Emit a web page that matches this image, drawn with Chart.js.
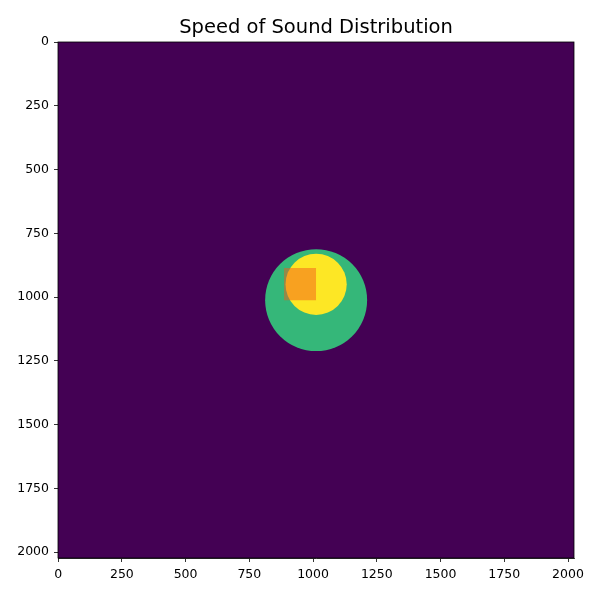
<!DOCTYPE html>
<html>
<head>
<meta charset="utf-8">
<script src="https://cdn.jsdelivr.net/npm/chart.js@4.4.0/dist/chart.umd.min.js"></script>
<style>
    body { margin: 0; background: #fff; }
    #wrap { width: 600px; height: 600px; }
</style>
</head>
<body>
<div id="wrap"><canvas id="sosChart" width="600" height="600"></canvas></div>
<script>
// grid extent (pixel centres 0..2023, image edges at -0.5 / 2023.5)
const gridMin = -0.5;
const gridMax = 2023.5;
const tickValues = [0, 250, 500, 750, 1000, 1250, 1500, 1750, 2000];

// circular regions: centre x, centre y, radius (grid units)
const circleX = [1012, 1012];
const circleY = [1012, 950];
const circleR = [200, 120];
const circleColors = ['#35b779', '#fde725'];

// square region corners
const rectX = [886, 1012];
const rectY = [886, 1012];

const bgColor = '#440154';
const rectColor = 'rgba(243, 92, 27, 0.5)';

// radius in data units -> pixels through the x scale
function pixelRadius(ctx, r) {
    const s = ctx.chart.scales.x;
    if (!s || !isFinite(s.getPixelForValue(0))) return 0;
    return Math.abs(s.getPixelForValue(r) - s.getPixelForValue(0));
}

const lineBase = {
    type: 'line',
    borderWidth: 0,
    pointRadius: 0,
    pointHoverRadius: 0,
    tension: 0
};

const datasets = [
    // background field
    Object.assign({}, lineBase, {
        data: [{ x: gridMin, y: gridMin }, { x: gridMax, y: gridMin }],
        fill: '+1', backgroundColor: bgColor, borderColor: bgColor, order: 6
    }),
    Object.assign({}, lineBase, {
        data: [{ x: gridMin, y: gridMax }, { x: gridMax, y: gridMax }],
        fill: false, borderColor: bgColor, order: 6
    }),
    // circles
    {
        type: 'scatter',
        data: [{ x: circleX[0], y: circleY[0] }],
        backgroundColor: circleColors[0],
        borderColor: circleColors[0],
        borderWidth: 0,
        pointRadius: ctx => pixelRadius(ctx, circleR[0]),
        pointHoverRadius: ctx => pixelRadius(ctx, circleR[0]),
        order: 3
    },
    {
        type: 'scatter',
        data: [{ x: circleX[1], y: circleY[1] }],
        backgroundColor: circleColors[1],
        borderColor: circleColors[1],
        borderWidth: 0,
        pointRadius: ctx => pixelRadius(ctx, circleR[1]),
        pointHoverRadius: ctx => pixelRadius(ctx, circleR[1]),
        order: 2
    },
    // square
    Object.assign({}, lineBase, {
        data: [{ x: rectX[0], y: rectY[0] }, { x: rectX[1], y: rectY[0] }],
        fill: '+1', backgroundColor: rectColor, borderColor: 'rgba(0,0,0,0)', order: 1
    }),
    Object.assign({}, lineBase, {
        data: [{ x: rectX[0], y: rectY[1] }, { x: rectX[1], y: rectY[1] }],
        fill: false, borderColor: 'rgba(0,0,0,0)', order: 1
    })
];

// black frame round the image like matplotlib spines,
// and centre the title over the plot area instead of the canvas
const framePlugin = {
    id: 'frame',
    afterLayout(chart) {
        if (chart.titleBlock) {
            chart.titleBlock.left = chart.chartArea.left;
            chart.titleBlock.right = chart.chartArea.right;
        }
    },
    afterDatasetsDraw(chart) {
        const a = chart.chartArea;
        const c = chart.ctx;
        c.save();
        c.strokeStyle = '#000';
        c.lineWidth = 0.8;
        c.strokeRect(a.left, a.top, a.right - a.left, a.bottom - a.top);
        c.restore();
    }
};

const tickFont = { family: 'DejaVu Sans', size: 12.5 };

function makeAxis(pad) {
    return {
        type: 'linear',
        min: gridMin,
        max: gridMax,
        grid: { drawOnChartArea: false, drawTicks: true, tickLength: 4, color: '#000', lineWidth: 0.8 },
        border: { display: true, color: '#000', width: 0.8 },
        ticks: { color: '#000', font: tickFont, padding: pad, maxRotation: 0, autoSkip: false, callback: v => String(v) },
        afterBuildTicks: s => { s.ticks = tickValues.map(v => ({ value: v })); }
    };
}

new Chart(document.getElementById('sosChart'), {
    type: 'line',
    data: { datasets: datasets },
    options: {
        responsive: false,
        animation: false,
        events: [],
        layout: { padding: { left: 0, right: 26, top: 0, bottom: 0 } },
        plugins: {
            legend: { display: false },
            tooltip: { enabled: false },
            title: {
                display: true,
                text: 'Speed of Sound Distribution',
                color: '#000',
                font: { family: 'DejaVu Sans', size: 19.5, weight: 'normal', lineHeight: 1.2 },
                padding: { top: 16.3, bottom: 2.3 }
            }
        },
        scales: {
            x: Object.assign(makeAxis(5), {
                position: 'bottom',
                afterFit: s => { s.height = 42; }
            }),
            y: Object.assign(makeAxis(5), {
                position: 'left',
                reverse: true,
                afterFit: s => { s.width = 58; }
            })
        }
    },
    plugins: [framePlugin]
});
</script>
</body>
</html>
